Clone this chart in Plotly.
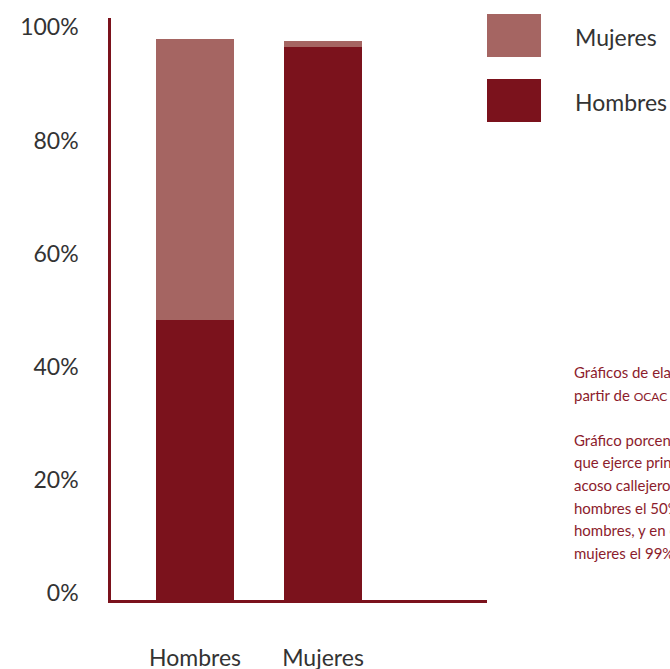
import plotly.graph_objects as go

categories = ["Hombres", "Mujeres"]
series_names = ["Hombres", "Mujeres"]
hombres_vals = [49.5, 97.7]
mujeres_vals = [49.6, 1.1]
y_ticks = [0, 20, 40, 60, 80, 100]
y_tick_labels = ["0%", "20%", "40%", "60%", "80%", "100%"]
colors = {"Hombres": "#7b121c", "Mujeres": "#a56562"}
note_lines = [
    "Gráficos de elaboración propia a",
    "partir de <span style='font-size:12px'>OCAC</span> Chile (2015).",
    "",
    "Gráfico porcentual del sexo de quien",
    "que ejerce principalmente el",
    "acoso callejero: en el caso de",
    "hombres el 50% es ejercido por",
    "hombres, y en el caso de las",
    "mujeres el 99% por hombres.",
]

FONT = "Lato"
AXIS = "#7b121c"
TXT = "#333333"

fig = go.Figure()
fig.add_trace(go.Bar(x=categories, y=hombres_vals, name=series_names[0],
                     marker=dict(color=colors["Hombres"], line=dict(width=0)),
                     width=0.61))
fig.add_trace(go.Bar(x=categories, y=mujeres_vals, name=series_names[1],
                     marker=dict(color=colors["Mujeres"], line=dict(width=0)),
                     width=0.61))

fig.update_layout(
    barmode="stack",
    width=670, height=669,
    margin=dict(l=111, r=183, t=18, b=69),
    paper_bgcolor="white", plot_bgcolor="white",
    showlegend=False,
    font=dict(family=FONT, size=22, color=TXT),
    xaxis=dict(range=[-0.65625, 2.281], showline=True, linecolor=AXIS, linewidth=2.5,
               showgrid=False, zeroline=False, ticks="", ticklabelstandoff=36,
               automargin=False,
               tickfont=dict(family=FONT, size=23, color=TXT)),
    yaxis=dict(range=[0, 102.9], showline=True, linecolor=AXIS, linewidth=2.5,
               showgrid=False, zeroline=False, ticks="",
               tickvals=y_ticks, ticktext=y_tick_labels,
               ticklabelstandoff=25, ticklabelshift=-7, automargin=False,
               tickfont=dict(family=FONT, size=23, color=TXT)),
)

# custom legend (large swatches)
legend_items = [("Mujeres", 1.0069, 0.933), ("Hombres", 0.8952, 0.8213)]
for name, y1, y0 in legend_items:
    fig.add_shape(type="rect", xref="paper", yref="paper",
                  x0=1.0, x1=1.1436, y0=y0, y1=y1,
                  fillcolor=colors[name], line=dict(width=0))
    fig.add_annotation(xref="paper", yref="paper", x=1.2287, y=(y0 + y1) / 2 - 0.003,
                       text=name, showarrow=False, xanchor="left", yanchor="middle",
                       font=dict(family=FONT, size=23, color=TXT))

# note text, one annotation per line
line_y0 = (600 - 372) / 582
line_step = 22.6 / 582
for i, line in enumerate(note_lines):
    if not line:
        continue
    fig.add_annotation(xref="paper", yref="paper", x=1.226, y=line_y0 - i * line_step,
                       text=line, showarrow=False,
                       xanchor="left", yanchor="middle", align="left",
                       font=dict(family=FONT, size=15, color="#8c1c2c"))

fig.write_html("out.html", config={"displayModeBar": False},
               post_script="document.body.style.margin='0px';")
